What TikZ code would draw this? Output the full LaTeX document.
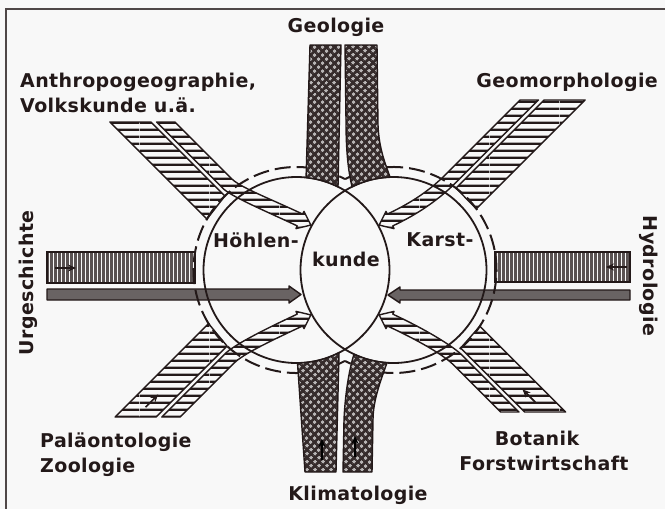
\documentclass[tikz,border=0pt]{standalone}
\usepackage{fontspec}
\newfontfamily\lab{DejaVu Sans Bold}[LetterSpace=2]
\usetikzlibrary{patterns.meta,arrows.meta}
\definecolor{ink}{RGB}{35,25,25}
\definecolor{paper}{RGB}{248,248,248}
\tikzdeclarepattern{name=hstripes, type=uncolored,
  bounding box={(0pt,0pt) and (70pt,7pt)}, tile size={(70pt,7pt)},
  code={\fill (0pt,0pt) rectangle (70pt,2.8pt);}}
\tikzdeclarepattern{name=vstripes, type=uncolored,
  bounding box={(0pt,0pt) and (3.5pt,70pt)}, tile size={(3.5pt,70pt)},
  code={\fill (0pt,0pt) rectangle (1.1pt,70pt);}}
\tikzdeclarepattern{name=holes, type=uncolored,
  bounding box={(0pt,0pt) and (5.5pt,5.5pt)}, tile size={(5.5pt,5.5pt)},
  tile transformation={rotate=45},
  code={\fill (2.75pt,2.75pt) circle[radius=1.7pt];}}
\tikzset{
  bandH/.style={preaction={fill=paper}, pattern=hstripes, pattern color=ink, draw=ink, line width=1.4pt, line join=round},
  mesh/.style={preaction={fill=ink!92}, pattern=holes, pattern color=paper!70!ink, draw=ink, line width=1.4pt, line join=round},
  vband/.style={preaction={fill=ink!75}, pattern=vstripes, pattern color=paper, draw=ink, line width=1.4pt},
  thinband/.style={fill=ink!68, draw=ink, line width=1.4pt, line join=round},
  circ/.style={draw=ink, line width=1.8pt},
  ringline/.style={draw=ink, line width=2pt, dash pattern=on 16pt off 6pt},
  lbl/.style={font=\lab\fontsize{19}{23}\selectfont, text=ink, inner sep=0pt},
  smallarrow/.style={draw=ink, line width=1.6pt, -{Stealth[length=8pt,width=7pt]}},
}
% one quadrant of diagonal bands, drawn in the north-west frame
% #1 = distance of the outer cut from the centre, #2 = shift of the pair, #3 = small arrow (1/0)
\newcommand\quadbands[3]{%
  \pgfmathsetmacro\hh{#1}%
  \pgfmathsetmacro\oA{-15.6+#2}%
  \pgfmathsetmacro\oB{-28.6+#2}%
  \pgfmathsetmacro\oC{-32.6+#2}%
  \pgfmathsetmacro\oD{-61.6+#2}%
  \pgfmathsetmacro\oM{-22.1+#2}%
  \pgfmathsetmacro\tC{-34.295-sqrt(1176.15-((\oC)*(\oC)+68.59*(\oC)-8256.75))}%
  \pgfmathsetmacro\tD{-34.295-sqrt(1176.15-((\oD)*(\oD)+68.59*(\oD)-8256.75))}%
  \pgfmathsetmacro\tB{-34.295-sqrt(1176.15-((\oM)*(\oM)+68.59*(\oM)-8256.75))-8}%
  \path[bandH] ({1.4142*(\oD)-\hh},{-\hh}) -- ({1.4142*(\oC)-\hh},{-\hh})
     -- ({0.7071*(\oC+\tC)},{0.7071*(\tC-(\oC))})
     -- ({0.7071*(\oD+\tD)},{0.7071*(\tD-(\oD))}) -- cycle;
  \path[bandH] ({1.4142*(\oB)-\hh},{-\hh}) -- ({1.4142*(\oA)-\hh},{-\hh})
     -- ({0.7071*(\oA+\tB)},{0.7071*(\tB-(\oA))})
     .. controls ({0.7071*(\oA+\tB+12)},{0.7071*(\tB+12-(\oA))}) and (-78.49,-72.81) .. (-42.25,-55.89)
     -- (-40.98,-58.61) -- (-34.13,-44.92) -- (-49.02,-41.39) -- (-47.75,-44.11)
     .. controls (-83.99,-61.03) and ({0.7071*(\oB+\tB+12)},{0.7071*(\tB+12-(\oB))}) ..
        ({0.7071*(\oB+\tB)},{0.7071*(\tB-(\oB))}) -- cycle;
  \ifnum#3=1
    \pgfmathsetmacro\oW{(\oC+\oD)/2}%
    \pgfmathsetmacro\tF{\oW-1.4142*\hh}%
    \draw[smallarrow] ({0.7071*(\oW+\tF+14)},{0.7071*(\tF+14-(\oW))}) -- ({0.7071*(\oW+\tF+32)},{0.7071*(\tF+32-(\oW))});
  \fi
}
\begin{document}
\begin{tikzpicture}[x=1pt,y=-1pt]
\useasboundingbox (0,0) rectangle (665,509);
\fill[paper] (0,0) rectangle (665,509);
\draw[ink!80, line width=1.6pt] (6,509) -- (6,9) -- (665,9);
\coordinate (L) at (296.5,270);
\coordinate (R) at (393.5,270);
\coordinate (C) at (345,270);

% diagonal bands
\begin{scope}[shift={(345,270)}]
  \quadbands{148}{0}{0}
\end{scope}
\begin{scope}[shift={(345,270)}, xscale=-1]
  \quadbands{170}{12}{0}
\end{scope}
\begin{scope}[shift={(345,270)}, yscale=-1]
  \quadbands{147}{3}{1}
\end{scope}
\begin{scope}[shift={(345,270)}, xscale=-1, yscale=-1]
  \quadbands{142}{6}{1}
\end{scope}

% horizontal bands
\path[vband] (47,252) rectangle (195,283);
\path[thinband] (47,289) -- (289,289) -- (289,286) -- (301,294.5) -- (289,303) -- (289,300) -- (47,300) -- cycle;
\path[vband] (495,252) rectangle (630,282);
\path[thinband] (630,290) -- (400,290) -- (400,287) -- (388,295) -- (400,303) -- (400,300) -- (630,300) -- cycle;
\draw[smallarrow] (55,268) -- (76,268);
\draw[smallarrow] (627,267) -- (606,267);

% dashed ring and circles
\draw[ringline] (L) ++(62:103) arc[start angle=62, end angle=298, radius=103];
\draw[ringline] (R) ++(-118:103) arc[start angle=-118, end angle=118, radius=103];
\draw[circ] (L) circle[radius=93];
\draw[circ] (R) circle[radius=93];

% vertical bands (Geologie)
\path[mesh] (310,45) -- (341,45) -- (338,186.8) arc[start angle=-63.5, end angle=-84.1, radius=93] -- cycle;
\path[mesh] (345,45) -- (377,45) -- (378,125) .. controls (379,150) and (386,165) .. (390,177.1)
   arc[start angle=-92.2, end angle=-116.5, radius=93]
   .. controls (348,170) and (346,150) .. (346,120) -- cycle;
% vertical bands (Klimatologie)
\path[mesh] (305,472) -- (297.5,363) arc[start angle=89.4, end angle=62.8, radius=93] -- (336,472) -- cycle;
\path[mesh] (343,472) -- (344,420) .. controls (345,395) and (349,370) .. (354,354.2)
   arc[start angle=115.1, end angle=94, radius=93]
   .. controls (381,380) and (373,400) .. (373,420) -- (372,472) -- cycle;
\draw[smallarrow, draw=black] (322,460) -- (322,439);
\draw[smallarrow, draw=black] (355,457) -- (355,436);

% labels
\node[lbl] (geo) at (336,27) {Geologie};
\node[lbl, anchor=west] (anth) at (20,82) {Anthropogeographie,};
\node[lbl, anchor=west] (volk) at (20,105) {Volkskunde u.ä.};
\node[lbl, anchor=east] (geom) at (658,82) {Geomorphologie};
\node[lbl, rotate=90] (urg) at (28,283) {Urgeschichte};
\node[lbl, rotate=-90] (hyd) at (649,276) {Hydrologie};
\node[lbl, anchor=west] (pal) at (40,442) {Paläontologie};
\node[lbl, anchor=west] (zoo) at (40,467) {Zoologie};
\node[lbl] (bot) at (537,438) {Botanik};
\node[lbl] (forst) at (544,463) {Forstwirtschaft};
\node[lbl] (klima) at (358,495) {Klimatologie};
\node[lbl] (hoe) at (256,240) {Höhlen-};
\node[lbl] (kun) at (346,259) {kunde};
\node[lbl] (kar) at (440,240) {Karst-};
\end{tikzpicture}
\end{document}
